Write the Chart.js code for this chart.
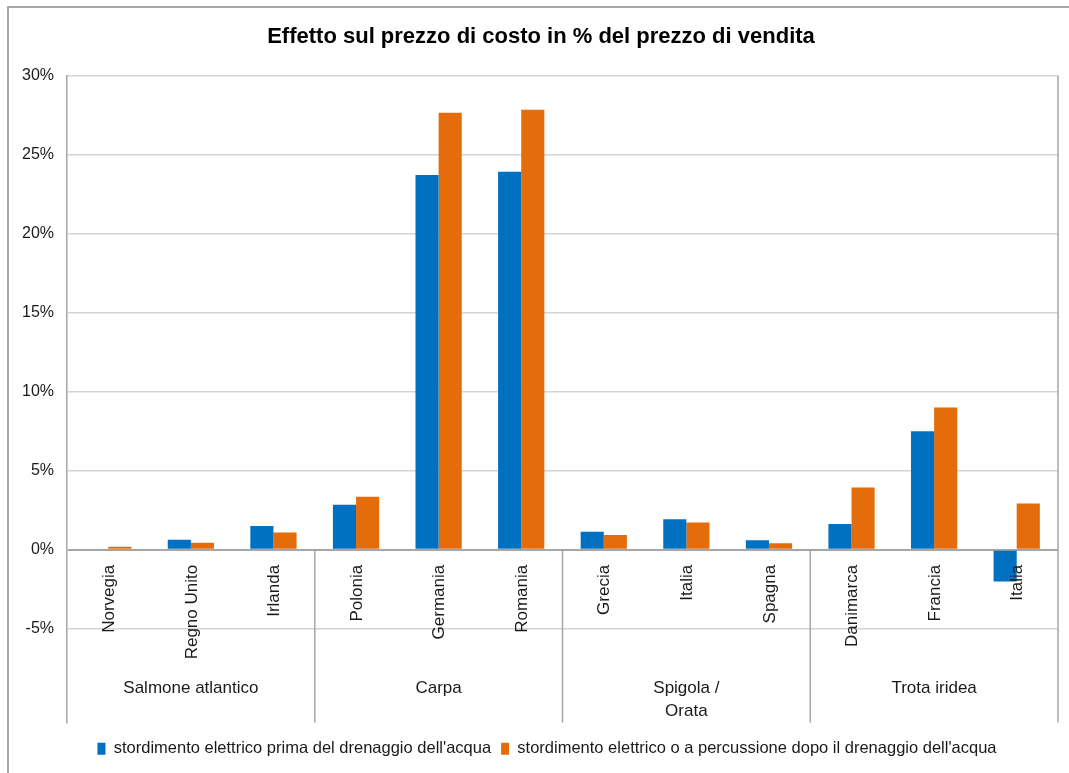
<!DOCTYPE html>
<html>
<head>
<meta charset="utf-8">
<script src="https://cdn.jsdelivr.net/npm/chart.js@4"></script>
<style>
  html, body { margin: 0; padding: 0; background: #fff; }
  #wrap { position: relative; width: 1069px; height: 773px; }
  #frame { position: absolute; left: 7px; top: 6px; right: 0; bottom: 0; border-left: 2px solid #a8a8a8; border-top: 2px solid #a8a8a8; pointer-events: none; }
  canvas { position: absolute; left: 0; top: 0; }
</style>
</head>
<body>
<div id="wrap">
  <canvas id="c" width="1069" height="773"></canvas>
  <div id="frame"></div>
</div>
<script>
const titleText = 'Effetto sul prezzo di costo in % del prezzo di vendita';
const categories = ['Norvegia', 'Regno Unito', 'Irlanda', 'Polonia', 'Germania', 'Romania', 'Grecia', 'Italia', 'Spagna', 'Danimarca', 'Francia', 'Italia'];
const groupLabels = [['Salmone atlantico'], ['Carpa'], ['Spigola /', 'Orata'], ['Trota iridea']];
const groupSizes = [3, 3, 3, 3];
const seriesNames = ['stordimento elettrico prima del drenaggio dell\'acqua', 'stordimento elettrico o a percussione dopo il drenaggio dell\'acqua'];
const seriesBefore = [0, 0.63, 1.5, 2.85, 23.7, 23.9, 1.14, 1.94, 0.61, 1.63, 7.49, -2.0];
const seriesAfter = [0.2, 0.44, 1.1, 3.35, 27.64, 27.83, 0.93, 1.73, 0.42, 3.94, 9.0, 2.93];
const yTickValues = [-5, 0, 5, 10, 15, 20, 25, 30];

const FONT = "'Liberation Sans', Arial, sans-serif";

const boxShiftPlugin = {
  id: 'boxShift',
  afterLayout(chart) {
    if (chart.legend) {
      chart.legend.left += 18;
      chart.legend.right += 18;
    }
    if (chart.titleBlock) {
      chart.titleBlock.left += 12;
      chart.titleBlock.right += 12;
    }
  }
};

const groupAxisPlugin = {
  id: 'groupAxis',
  afterDraw(chart) {
    const ctx = chart.ctx;
    const xs = chart.scales.x;
    const ys = chart.scales.y;
    const area = chart.chartArea;
    const y0 = ys.getPixelForValue(0);
    ctx.save();
    // right border of plot area
    ctx.strokeStyle = '#a6a6a6';
    ctx.lineWidth = 1.5;
    ctx.beginPath();
    ctx.moveTo(area.right, area.top);
    ctx.lineTo(area.right, area.bottom);
    ctx.stroke();
    // group separators
    let idx = 0;
    groupSizes.forEach((n, g) => {
      if (g > 0) {
        const bx = (xs.getPixelForValue(idx - 1) + xs.getPixelForValue(idx)) / 2;
        ctx.beginPath();
        ctx.moveTo(bx, y0);
        ctx.lineTo(bx, area.bottom);
        ctx.stroke();
      }
      idx += n;
    });
    // category labels (rotated)
    ctx.fillStyle = '#1a1a1a';
    ctx.font = '17px ' + FONT;
    ctx.textAlign = 'right';
    ctx.textBaseline = 'middle';
    categories.forEach((lab, i) => {
      const x = xs.getPixelForValue(i);
      ctx.save();
      ctx.translate(x + 1, y0 + 15);
      ctx.rotate(-Math.PI / 2);
      ctx.fillText(lab, 0, 0);
      ctx.restore();
    });
    // group labels
    ctx.textAlign = 'center';
    ctx.textBaseline = 'middle';
    ctx.font = '17px ' + FONT;
    idx = 0;
    groupSizes.forEach((n, g) => {
      const cx = (xs.getPixelForValue(idx) + xs.getPixelForValue(idx + n - 1)) / 2;
      groupLabels[g].forEach((line, k) => {
        ctx.fillText(line, cx, y0 + 138 + k * 23);
      });
      idx += n;
    });
    ctx.restore();
  }
};

new Chart(document.getElementById('c'), {
  type: 'bar',
  data: {
    labels: categories,
    datasets: [
      { label: seriesNames[0], data: seriesBefore, backgroundColor: '#0070C0', borderWidth: 0 },
      { label: seriesNames[1], data: seriesAfter, backgroundColor: '#E46C0A', borderWidth: 0 }
    ]
  },
  options: {
    responsive: false,
    animation: false,
    devicePixelRatio: 1,
    layout: { padding: { left: 0, right: 11, top: 0, bottom: 6 } },
    datasets: { bar: { categoryPercentage: 0.56, barPercentage: 1.0 } },
    plugins: {
      title: {
        display: true,
        text: titleText,
        color: '#000',
        font: { family: FONT, size: 22, weight: 'bold' },
        padding: { top: 24, bottom: 25 }
      },
      legend: {
        position: 'bottom',
        labels: {
          color: '#1a1a1a',
          font: { family: FONT, size: 16.5 },
          boxWidth: 8,
          boxHeight: 12,
          padding: 10
        }
      },
      tooltip: { enabled: false }
    },
    scales: {
      x: {
        display: true,
        grid: { display: false },
        border: { display: false },
        ticks: { display: false }
      },
      y: {
        min: -10.92,
        max: 30,
        afterBuildTicks(scale) { scale.ticks = yTickValues.map(v => ({ value: v })); },
        afterFit(scale) { scale.width = 67; },
        grid: {
          color: ctx => (ctx.tick && ctx.tick.value === 0) ? '#a6a6a6' : '#d4d4d4',
          lineWidth: ctx => (ctx.tick && ctx.tick.value === 0) ? 2 : 1.5,
          drawTicks: false
        },
        border: { display: true, color: '#a6a6a6', width: 1.5 },
        ticks: {
          padding: 13,
          color: '#1a1a1a',
          font: { family: FONT, size: 16 },
          callback: v => v + '%'
        }
      }
    }
  },
  plugins: [groupAxisPlugin, boxShiftPlugin]
});
</script>
</body>
</html>
